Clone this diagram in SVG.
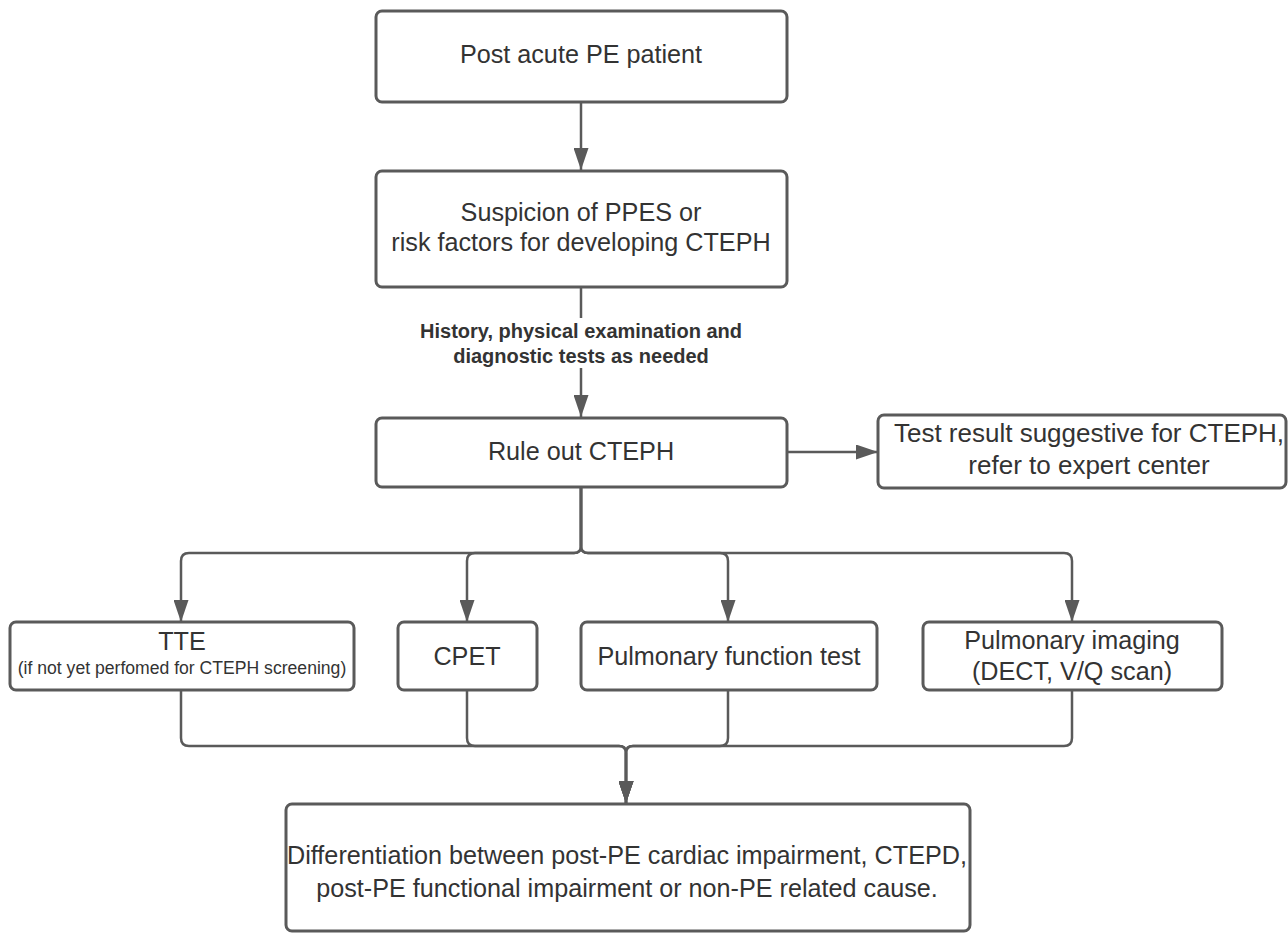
<svg xmlns="http://www.w3.org/2000/svg" width="1288" height="933" viewBox="0 0 1288 933">
<style>
.box{fill:#fff;stroke:#5a5a5a;stroke-width:3}
.t{font-family:"Liberation Sans",Arial,sans-serif;font-size:25.2px;fill:#333;text-anchor:middle;dominant-baseline:central}
.s{font-size:17.6px}
.w{font-size:26px}
.lbl{font-family:"Liberation Sans",Arial,sans-serif;font-size:20px;font-weight:bold;fill:#333;text-anchor:middle;dominant-baseline:central}
.c{fill:none;stroke:#5a5a5a;stroke-width:2.5}
</style>
<defs>
<marker id="ah" markerUnits="userSpaceOnUse" markerWidth="22" markerHeight="15" viewBox="0 0 22 15" refX="22" refY="7.5" orient="auto">
<path d="M0,0 L22,7.5 L0,15 Z" fill="#5a5a5a"/>
</marker>
</defs>
<rect width="1288" height="933" fill="#fff"/>
<g id="connectors">
<path class="c" d="M581,102 V170" marker-end="url(#ah)"/>
<path class="c" d="M581,287 V318"/>
<path class="c" d="M581,368 V417" marker-end="url(#ah)"/>
<path class="c" d="M787,452 H878" marker-end="url(#ah)"/>
<path class="c" d="M581,487 V546 Q581,553 574,553 H189 Q181,553 181,561 V622" marker-end="url(#ah)"/>
<path class="c" d="M581,487 V546 Q581,553 574,553 H475 Q467,553 467,561 V622" marker-end="url(#ah)"/>
<path class="c" d="M581,487 V546 Q581,553 588,553 H720 Q728,553 728,561 V622" marker-end="url(#ah)"/>
<path class="c" d="M581,487 V546 Q581,553 588,553 H1064 Q1072,553 1072,561 V622" marker-end="url(#ah)"/>
<path class="c" d="M181,690 V738 Q181,746 189,746 H619 Q626,746 626,753 V803" marker-end="url(#ah)"/>
<path class="c" d="M467,690 V738 Q467,746 475,746 H619 Q626,746 626,753 V803" marker-end="url(#ah)"/>
<path class="c" d="M728,690 V738 Q728,746 720,746 H633 Q626,746 626,753 V803" marker-end="url(#ah)"/>
<path class="c" d="M1072,690 V738 Q1072,746 1064,746 H633 Q626,746 626,753 V803" marker-end="url(#ah)"/>
<text class="lbl" x="581" y="331">History, physical examination and</text>
<text class="lbl" x="581" y="356">diagnostic tests as needed</text>
</g>
<g id="n1"><rect class="box" x="376" y="11" width="411" height="91" rx="6"/><text class="t" x="581" y="54">Post acute PE patient</text></g>
<g id="n2"><rect class="box" x="376" y="171" width="411" height="116" rx="6"/><text class="t" x="581" y="212">Suspicion of PPES or</text><text class="t" x="581" y="242">risk factors for developing CTEPH</text></g>
<g id="n3"><rect class="box" x="376" y="418" width="411" height="69" rx="6"/><text class="t" x="581" y="451">Rule out CTEPH</text></g>
<g id="n4"><rect class="box" x="878" y="415" width="408" height="73" rx="6"/><text class="t w" x="1089" y="433">Test result suggestive for CTEPH,</text><text class="t w" x="1089" y="465">refer to expert center</text></g>
<g id="n5"><rect class="box" x="10" y="622" width="344" height="68" rx="6"/><text class="t" x="182" y="641">TTE</text><text class="t s" x="182" y="668">(if not yet perfomed for CTEPH screening)</text></g>
<g id="n6"><rect class="box" x="398" y="622" width="139" height="68" rx="6"/><text class="t" x="467" y="656">CPET</text></g>
<g id="n7"><rect class="box" x="581" y="622" width="296" height="68" rx="6"/><text class="t" x="729" y="656">Pulmonary function test</text></g>
<g id="n8"><rect class="box" x="923" y="622" width="299" height="68" rx="6"/><text class="t" x="1072" y="640">Pulmonary imaging</text><text class="t" x="1072" y="671">(DECT, V/Q scan)</text></g>
<g id="n9"><rect class="box" x="286" y="804" width="684" height="127" rx="6"/><text class="t" x="627" y="855">Differentiation between post-PE cardiac impairment, CTEPD,</text><text class="t" x="627" y="888">post-PE functional impairment or non-PE related cause.</text></g>
</svg>
